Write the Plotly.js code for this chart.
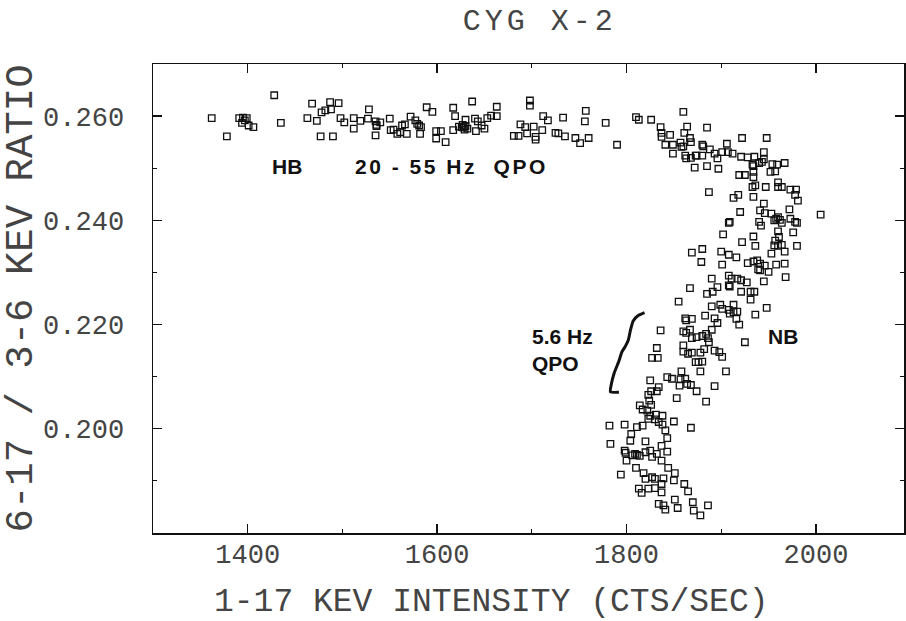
<!DOCTYPE html>
<html>
<head>
<meta charset="utf-8">
<script src="https://cdn.plot.ly/plotly-3.0.1.min.js"></script>
<style>
  html, body { margin: 0; padding: 0; background: #ffffff; }
  #chart { width: 906px; height: 621px; }
</style>
</head>
<body>
<div id="chart"></div>
<script>
// Cyg X-2: hardness ratio (6-17 keV / 3-6 keV) against 1-17 keV intensity.

// Horizontal branch (20-55 Hz QPO)
const hbIntensity = [
  1362,1378,1391,1395,1397,1394,1401,1406,1399,1428,
  1435,1463,1468,1473,1477,1490,1478,1482,1487,1496,
  1488,1498,1502,1512,1512,1519,1528,1527,1535,1536,
  1535,1540,1550,1551,1554,1558,1561,1563,1536,1566,
  1568,1572,1577,1579,1581,1583,1582,1589,1595,1599,
  1604,1599,1609,1617,1619,1617,1623,1626,1628,1630,
  1632,1629,1627,1630,1637,1640,1643,1641,1647,1650,
  1653,1657,1663,1663,1681,1686,1688,1693,1695,1702,
  1704,1704,1698,1698,1711,1712,1717
];
const hbRatio = [
  .2596,.2561,.2596,.2597,.2592,.2587,.2582,.2579,.2596,.2640,
  .2587,.2596,.2624,.2591,.2561,.2561,.2607,.2611,.2627,.2625,
  .2613,.2596,.2588,.2596,.2576,.2591,.2613,.2595,.2590,.2583,
  .2563,.2588,.2595,.2573,.2574,.2566,.2569,.2582,.2581,.2584,
  .2566,.2599,.2592,.2585,.2582,.2579,.2566,.2617,.2608,.2571,
  .2571,.2557,.2550,.2616,.2600,.2573,.2580,.2579,.2578,.2581,
  .2576,.2574,.2583,.2593,.2628,.2595,.2590,.2571,.2582,.2576,
  .2596,.2601,.2600,.2618,.2562,.2562,.2584,.2579,.2567,.2580,
  .2560,.2555,.2630,.2620,.2573,.2600,.2592
];

// Hard apex and upper normal branch
const apexIntensity = [
  1725,1728,1735,1733,1746,1751,1760,1757,1756,1778,
  1790,1810,1813,1826,1836,1837,1837,1846,1860,1861,
  1864,1867,1868,1841,1849,1857,1858,1860,1849,1862,
  1863,1868,1873,1880,1881,1872,1885,1897,1885,1888,
  1893,1896,1901,1907,1912,1906,1922,1921,1928,1935,
  1948,1945,1945,1943,1940,1933,1934,1919,1925,1934,
  1954,1952,1957,1967,1933,1936,1947,1960,1960,1964,
  1973,1979,1978,1981,1934,1887,1913,1918,1945,1941,
  1946,1953,1960,1962,1964,1958,1972,1973,1978,1976,
  1920,1908,1909,1940,1942,1902,1922,1934,1936,1960,
  1961,1957,1960,1956,1980,2005,1956,1980,1964,1874,
  1880,1934,1959
];
const apexRatio = [
  .2568,.2567,.2561,.2597,.2558,.2548,.2558,.2610,.2590,.2587,
  .2545,.2598,.2593,.2593,.2579,.2568,.2560,.2564,.2608,.2568,
  .2580,.2558,.2550,.2545,.2545,.2549,.2541,.2542,.2528,.2524,
  .2519,.2520,.2524,.2545,.2542,.2501,.2504,.2499,.2578,.2536,
  .2528,.2519,.2531,.2531,.2528,.2547,.2558,.2522,.2521,.2522,
  .2558,.2531,.2517,.2512,.2510,.2507,.2504,.2487,.2487,.2483,
  .2508,.2493,.2494,.2510,.2464,.2467,.2464,.2473,.2464,.2464,
  .2459,.2459,.2449,.2438,.2445,.2454,.2443,.2449,.2432,.2419,
  .2414,.2413,.2406,.2401,.2395,.2403,.2421,.2403,.2397,.2377,
  .2416,.2395,.2397,.2397,.2390,.2373,.2358,.2369,.2351,.2379,
  .2368,.2361,.2351,.2352,.2351,.2411,.2400,.2395,.2353,.2524,
  .2524,.2493,.2507
];

// Lower normal branch (5.6 Hz QPO)
const nbIntensity = [
  1869,1880,1879,1900,1908,1916,1901,1908,1908,1909,
  1911,1917,1921,1927,1921,1931,1935,1928,1934,1938,
  1941,1939,1946,1950,1941,1945,1931,1953,1958,1967,
  1967,1968,1948,1936,1890,1867,1885,1891,1896,1855,
  1890,1899,1901,1908,1913,1913,1917,1916,1919,1909,
  1883,1893,1896,1890,1862,1869,1863,1836,1860,1867,
  1869,1874,1880,1886,1884,1887,1863,1925,1832,1860,
  1860,1865,1869,1873,1876,1880,1878,1882,1893,1898,
  1901,1827,1833,1858,1878,1905,1843,1848,1857,1862,
  1864,1868,1874,1893,1856,1853,1884,1825,1834,1832,
  1826,1823,1824,1826,1814,1817,1822,1825,1823,1831,
  1830,1838,1834,1838,1841,1843,1850,1868,1782,1798,
  1805,1811,1817,1804,1820,1783,1798,1800,1806,1811,
  1814,1820,1825,1827,1837,1843,1837,1844,1794,1810,
  1818,1820,1827,1830,1839,1837,1850,1861,1865,1813,
  1816,1823,1830,1837,1834,1839,1841,1851,1854,1870,
  1871,1878,1886,1851,1809,1832,1799
];
const nbRatio = [
  .2338,.2345,.2320,.2340,.2334,.2329,.2315,.2294,.2275,.2273,
  .2288,.2288,.2285,.2281,.2263,.2263,.2263,.2318,.2321,.2323,
  .2317,.2306,.2313,.2301,.2304,.2283,.2248,.2336,.2315,.2340,
  .2317,.2291,.2232,.2219,.2288,.2270,.2259,.2263,.2272,.2244,
  .2235,.2238,.2230,.2228,.2238,.2224,.2225,.2211,.2200,.2221,
  .2217,.2212,.2203,.2190,.2212,.2211,.2208,.2189,.2187,.2190,
  .2174,.2176,.2178,.2174,.2182,.2166,.2184,.2166,.2155,.2160,
  .2148,.2144,.2146,.2128,.2128,.2129,.2146,.2153,.2150,.2147,
  .2138,.2136,.2136,.2110,.2110,.2110,.2099,.2096,.2095,.2096,
  .2086,.2084,.2072,.2082,.2083,.2059,.2052,.2093,.2080,.2072,
  .2072,.2065,.2054,.2046,.2045,.2037,.2035,.2025,.2019,.2027,
  .2018,.2025,.2013,.2008,.1997,.1982,.2014,.2002,.2006,.2008,
  .1990,.2003,.2006,.1977,.1976,.1971,.1958,.1939,.1949,.1950,
  .1948,.1955,.1958,.1946,.1967,.1956,.1939,.1925,.1912,.1925,
  .1915,.1904,.1907,.1904,.1905,.1894,.1901,.1894,.1880,.1885,
  .1877,.1885,.1886,.1878,.1856,.1853,.1845,.1864,.1848,.1859,
  .1843,.1834,.1853,.1915,.1952,.1952,.1954
];

// Hand-drawn brace marking the 5.6 Hz QPO interval
const braceIntensity = [1792,1783,1784,1787,1792,1795,1799,1802,1804,1807,1812,1819];
const braceRatio     = [0.2070,0.2071,0.2086,0.2107,0.2130,0.2147,0.2159,0.2171,0.2188,0.2207,0.2217,0.2223];

// Axis ticks
const xTickVals = [1400, 1600, 1800, 2000];
const yTickVals = [0.200, 0.220, 0.240, 0.260];
const xRange = [1300, 2093];
const yRange = [0.180, 0.270];

const monoFont = 'Liberation Mono, DejaVu Sans Mono, monospace';
const labelFont = 'Liberation Sans, Arial, sans-serif';
const ink = '#111111';
const textInk = '#444444';

const squareMarker = {
  symbol: 'square-open',
  size: 6.5,
  color: ink,
  line: { width: 1.3, color: ink }
};

const traces = [
  { x: hbIntensity, y: hbRatio, type: 'scatter', mode: 'markers', name: 'HB', marker: squareMarker, hoverinfo: 'x+y' },
  { x: apexIntensity, y: apexRatio, type: 'scatter', mode: 'markers', name: 'apex', marker: squareMarker, hoverinfo: 'x+y' },
  { x: nbIntensity, y: nbRatio, type: 'scatter', mode: 'markers', name: 'NB', marker: squareMarker, hoverinfo: 'x+y' },
  { x: braceIntensity, y: braceRatio, type: 'scatter', mode: 'lines', name: 'brace',
    line: { color: ink, width: 3, shape: 'spline', smoothing: 0.5 }, hoverinfo: 'skip' }
];

const axisCommon = {
  showline: true, mirror: 'ticks', linecolor: ink, linewidth: 1.5,
  ticks: 'inside', ticklen: 9, tickwidth: 1.3, tickcolor: ink,
  showgrid: false, zeroline: false,
  tickfont: { family: monoFont, size: 27, color: textInk }
};

const labelStyle = { family: labelFont, size: 21, color: ink, weight: 'bold' };

const layout = {
  width: 906, height: 621,
  margin: { l: 153, r: 2, t: 64, b: 88, pad: 0 },
  paper_bgcolor: '#ffffff', plot_bgcolor: '#ffffff',
  showlegend: false,
  title: {
    text: '<span style="letter-spacing:4px">CYG X-2</span>',
    font: { family: monoFont, size: 30, color: textInk },
    xref: 'paper', x: 0.515, xanchor: 'center',
    yref: 'container', y: 0.968, yanchor: 'middle'
  },
  xaxis: Object.assign({}, axisCommon, {
    range: xRange, tickvals: xTickVals,
    ticklabelstandoff: -4,
    minor: { dtick: 100, ticklen: 4, tickwidth: 1.2, tickcolor: ink, ticks: 'inside' }
  }),
  yaxis: Object.assign({}, axisCommon, {
    range: yRange, tickvals: yTickVals, tickformat: '.3f',
    ticklabelstandoff: 22,
    minor: { dtick: 0.01, ticklen: 4, tickwidth: 1.2, tickcolor: ink, ticks: 'inside' },
    title: { text: '6-17 / 3-6 KEV RATIO', font: { family: monoFont, size: 39, color: textInk }, standoff: 12 }
  }),
  annotations: [
    { xref: 'paper', yref: 'paper', x: 0.451, y: -0.149, xanchor: 'center', yanchor: 'middle',
      text: '1-17 KEV INTENSITY (CTS/SEC)', showarrow: false,
      font: { family: monoFont, size: 33, color: textInk } },
    { x: 1442, y: 0.2504, text: 'HB', showarrow: false, xanchor: 'center', yanchor: 'middle',
      font: labelStyle },
    { x: 1615, y: 0.2504, text: '<span style="letter-spacing:2.5px">20 - 55 Hz  QPO</span>',
      showarrow: false, xanchor: 'center', yanchor: 'middle', font: labelStyle },
    { x: 1698, y: 0.2151, text: '5.6 Hz<br>QPO', showarrow: false, xanchor: 'left', yanchor: 'middle', align: 'left',
      font: labelStyle },
    { x: 1965, y: 0.2178, text: 'NB', showarrow: false, xanchor: 'center', yanchor: 'middle',
      font: labelStyle }
  ]
};

Plotly.newPlot('chart', traces, layout, { staticPlot: true, displayModeBar: false });
</script>
</body>
</html>
